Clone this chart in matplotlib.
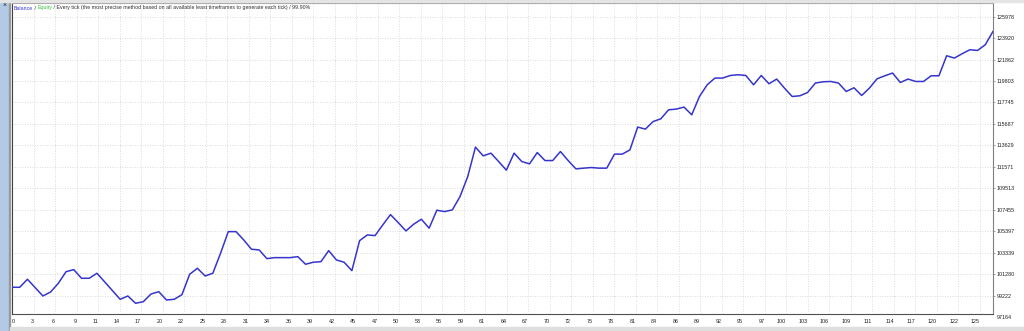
import matplotlib
matplotlib.use("Agg")
import matplotlib.pyplot as plt
from matplotlib.patches import Rectangle

# balance after each trade
balance = [
    100029, 100029, 100796, 100000, 99194, 99578, 100412, 101525, 101717, 100892,
    100892, 101372, 100547, 99712, 98877, 99194, 98493, 98647, 99386, 99606,
    98810, 98877, 99319, 101276, 101851, 101113, 101372, 103291, 105363, 105363,
    104567, 103675, 103607, 102773, 102869, 102869, 102869, 102965, 102235, 102427,
    102485, 103540, 102650, 102427, 101621, 104500, 105047, 104980, 106006, 106995,
    106227, 105431, 106073, 106553, 105690, 107417, 107282, 107445, 108722, 110641,
    113462, 112627, 112886, 112080, 111255, 112886, 112080, 111859, 112943, 112176,
    112176, 113039, 112176, 111379, 111447, 111504, 111447, 111447, 112790, 112790,
    113202, 115381, 115189, 115918, 116177, 117040, 117108, 117300, 116561, 118317,
    119439, 120082, 120082, 120332, 120399, 120332, 119439, 120332, 119535, 119986,
    119123, 118317, 118384, 118700, 119602, 119727, 119756, 119602, 118796, 119151,
    118413, 119123, 120015, 120303, 120562, 119660, 119986, 119756, 119756, 120303,
    120303, 122222, 122001, 122414, 122797, 122730, 123277, 124553,
]

y_ticks = [99222, 101280, 103339, 105397, 107455, 109513, 111571, 113629,
           115687, 117745, 119803, 121862, 123920, 125978]
y_bottom_label = 97164

x_labels = [0, 3, 6, 9, 11, 14, 17, 20, 22, 25, 28, 31, 34, 36, 39, 42, 45, 47,
            50, 53, 56, 59, 61, 64, 67, 70, 72, 75, 78, 81, 84, 86, 89, 92, 95,
            97, 100, 103, 106, 109, 111, 114, 117, 120, 122, 125]
X_STEP = 2.784  # trades per vertical grid line

header = [("Balance", "#3a3ad2"), (" / ", "#303030"), ("Equity", "#3cc03c"),
          (" / Every tick (the most precise method based on all available least "
           "timeframes to generate each tick) / 99.90%", "#303030")]

plt.rcParams['font.family'] = ['Liberation Sans', 'DejaVu Sans']
FS = 3.9
FS_HEAD = 3.75

fig = plt.figure(figsize=(10.24, 3.31), dpi=100)
W, H = 1024, 331

# window chrome: blue strip on the left, tab bar at the bottom
fig.patches.append(Rectangle((0, 0), 9 / W, 1, transform=fig.transFigure,
                             color="#b2cae6", zorder=0))
fig.patches.append(Rectangle((9 / W, 0), 1.2 / W, 1, transform=fig.transFigure,
                             color="#9a9a9a", zorder=0))
fig.patches.append(Rectangle((0, 1 - 2 / H), 1, 2 / H, transform=fig.transFigure,
                             color="#e4e4e4", zorder=0))
fig.patches.append(Rectangle((10 / W, 0), 1, 4 / H, transform=fig.transFigure,
                             color="#dedede", zorder=0))
fig.text(5 / W, 1 - 5 / H, "×", fontsize=5, ha="center", va="center", color="#202020")

ax = fig.add_axes([12 / W, 1 - 314 / H, (993 - 12) / W, (314 - 3) / H])
ax.plot(range(len(balance)), balance, color="#3535cc", lw=1.1, zorder=3)

ax.set_xlim(0, len(balance) - 1)
ax.set_ylim(97467, 127278)

xpos = [k * X_STEP for k in range(len(x_labels))]
ax.set_xticks(xpos)
ax.set_xticklabels([str(v) for v in x_labels])
for i, t in enumerate(ax.get_xticklabels()):
    t.set_ha("left" if i == 0 else "right")

ax.yaxis.tick_right()
ax.set_yticks(y_ticks)
ax.set_yticklabels([str(v) for v in y_ticks])
ax.annotate(str(y_bottom_label), xy=(1, y_bottom_label),
            xycoords=("axes fraction", "data"), xytext=(2.9, 0),
            textcoords="offset points", va="center", ha="left",
            fontsize=FS, color="#202020", annotation_clip=False)

ax.tick_params(axis="y", length=1.5, width=0.5, pad=1.4, labelsize=FS,
               colors="#202020")
ax.tick_params(axis="y", color="#808080")
ax.tick_params(axis="x", length=0, pad=3.4, labelsize=FS, colors="#202020")

ax.grid(True, color="#cfcfcf", lw=0.6, linestyle=(0, (1, 2)))
ax.set_axisbelow(True)

for side, c in [("left", "#404040"), ("bottom", "#505050"),
                ("right", "#808080"), ("top", "#a0a0a0")]:
    ax.spines[side].set_color(c)
    ax.spines[side].set_linewidth(0.8)

# coloured header line, pieces chained one after another
prev = ax.text(2 / (993 - 12), 1 - 5 / (314 - 3), header[0][0],
               transform=ax.transAxes, fontsize=FS_HEAD, color=header[0][1],
               va="center", ha="left")
for txt, col in header[1:]:
    prev = ax.annotate(txt, xy=(1, 0.5), xycoords=prev, va="center", ha="left",
                       fontsize=FS_HEAD, color=col)

fig.savefig("out.png", dpi=100)
